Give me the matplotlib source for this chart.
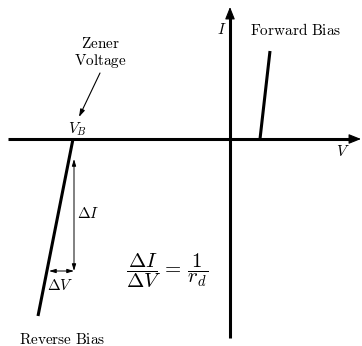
import numpy as np
import matplotlib.pyplot as plt

plt.rcParams['mathtext.fontset'] = 'cm'

# axis extents (units are relative to the origin)
v_axis = [-222, 131]
i_axis = [-199, 132]

# forward bias branch
forward_v = [30, 40]
forward_i = [0, 88]

# reverse (zener) branch
reverse_v = [-157, -192]
reverse_i = [0, -177]

# small triangle showing delta I / delta V
delta_x = -156
delta_top = -20
delta_bottom = -132
delta_left = -181

fig = plt.figure(figsize=(3.62, 3.46), dpi=100)
ax = fig.add_axes([0, 0, 1, 1])
ax.set_xlim(-230, 132)
ax.set_ylim(-207, 139)
ax.axis('off')

# axes: thick line plus a small stealth head
ax.plot([v_axis[0], v_axis[1] - 6], [0, 0], color='black', lw=2.2, solid_capstyle='butt')
ax.plot([0, 0], [i_axis[0], i_axis[1] - 6], color='black', lw=2.2, solid_capstyle='butt')
head = dict(arrowstyle='-|>,head_length=0.75,head_width=0.3', lw=0.8,
            color='black', shrinkA=0, shrinkB=0)
ax.annotate('', xy=(v_axis[1], 0), xytext=(v_axis[1] - 12, 0), arrowprops=head)
ax.annotate('', xy=(0, i_axis[1]), xytext=(0, i_axis[1] - 12), arrowprops=head)

ax.plot(forward_v, forward_i, color='black', lw=2.2, solid_capstyle='butt')
ax.plot(reverse_v, reverse_i, color='black', lw=2.2, solid_capstyle='butt')

thin = dict(arrowstyle='<|-|>,head_length=0.4,head_width=0.12', lw=0.7,
            color='black', shrinkA=0, shrinkB=0)
ax.annotate('', xy=(delta_x, delta_bottom), xytext=(delta_x, delta_top), arrowprops=thin)
ax.annotate('', xy=(delta_left, delta_bottom), xytext=(delta_x, delta_bottom), arrowprops=thin)

fs = 11
ax.text(delta_x + 3, -75, r'$\Delta I$', fontsize=fs, ha='left', va='center')
ax.text(-170, -146, r'$\Delta V$', fontsize=fs, ha='center', va='center')

ax.text(-152, 10, r'$V_B$', fontsize=fs, ha='center', va='center')
ax.text(-130, 86, '$\\mathrm{Zener}$\n$\\mathrm{Voltage}$', fontsize=fs,
        ha='center', va='center', linespacing=1.0)
ax.annotate('', xy=(-151, 22), xytext=(-130, 66),
            arrowprops=dict(arrowstyle='-|>,head_length=0.45,head_width=0.14', lw=0.8,
                            color='black', shrinkA=0, shrinkB=0))

ax.text(-8, 109, r'$I$', fontsize=fs, ha='center', va='center')
ax.text(113, -13, r'$V$', fontsize=fs, ha='center', va='center')
ax.text(66, 109, r'$\mathrm{Forward\ Bias}$', fontsize=fs, ha='center', va='center')
ax.text(-168, -201, r'$\mathrm{Reverse\ Bias}$', fontsize=fs, ha='center', va='center')

ax.text(-63, -132, r'$\dfrac{\Delta I}{\Delta V}\,=\,\dfrac{1}{r_d}$', fontsize=15,
        ha='center', va='center')

fig.savefig('out.png', dpi=100)
